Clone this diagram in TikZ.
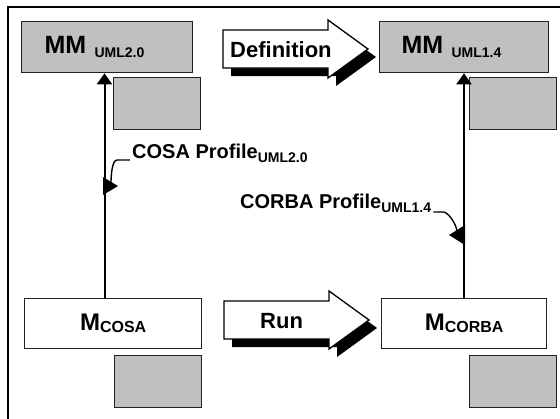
\documentclass[tikz,border=0pt]{standalone}
\usepackage{fontspec}
\setmainfont{Liberation Sans}
\usetikzlibrary{arrows.meta}
\definecolor{boxgray}{HTML}{C0C0C0}
\definecolor{edge}{HTML}{222222}
% lowered, smaller index text after a name
\newcommand{\idx}[3]{\raisebox{-#1}{\fontsize{#2}{#2}\selectfont #3}}
\tikzset{
  boxline/.style={draw=edge, line width=1.3pt},
  mmbox/.style={boxline, fill=boxgray, anchor=north west, minimum height=51pt,
    inner xsep=23pt, inner ysep=0pt, align=left, font=\bfseries\fontsize{25pt}{25pt}\selectfont},
  modelbox/.style={boxline, fill=white, anchor=north west, minimum height=50pt,
    inner sep=0pt, font=\bfseries\fontsize{24pt}{24pt}\selectfont},
  tag/.style={boxline, fill=boxgray, anchor=north west, minimum width=87pt,
    minimum height=52pt, inner sep=0pt},
  arrowtext/.style={anchor=base west, inner sep=0pt, font=\bfseries\fontsize{22pt}{22pt}\selectfont},
  proftext/.style={anchor=base west, inner sep=0pt, font=\bfseries\fontsize{20pt}{20pt}\selectfont},
  conn/.style={line width=2pt, -{Triangle[length=11pt,width=15pt]}},
  leader/.style={line width=1.4pt},
  pics/blockarrow/.style={code={
    \fill[black] (8,-11) -- (113,-11) -- (113,-21) -- (153,8) -- (113,37)
      -- (113,27) -- (8,27) -- cycle;
    \draw[fill=white, line width=1.3pt] (0,-19) -- (105,-19) -- (105,-29)
      -- (145,0) -- (105,29) -- (105,19) -- (0,19) -- cycle;
  }},
}
\begin{document}
\begin{tikzpicture}[x=1pt, y=-1pt]
  \useasboundingbox (0,0) rectangle (560,418);
  \clip (0,0) rectangle (560,418);

  % frame
  \draw[line width=2pt] (8,430) -- (8,7) -- (570,7);

  % metamodels
  \node[mmbox, text width=125pt] (mm20) at (21,21) {MM \idx{4pt}{14pt}{UML2.0}};
  \node[mmbox, text width=125pt, inner xsep=22pt] (mm14) at (379,21) {MM \idx{4pt}{14pt}{UML1.4}};
  \node[tag] (t1) at (113,77) {};
  \node[tag] (t2) at (469,77) {};

  % models
  \node[modelbox, minimum width=177pt] (mcosa) at (24,298) {M\idx{2pt}{16pt}{COSA}};
  \node[modelbox, minimum width=165pt] (mcorba) at (381,298) {M\idx{2pt}{16pt}{CORBA}};
  \node[tag] (t3) at (114,355) {};
  \node[tag] (t4) at (469,355) {};

  % block arrows between the columns
  \pic at (223,49) {blockarrow};
  \node[arrowtext] (defn) at (230,57) {Definition};
  \pic at (224,320) {blockarrow};
  \node[arrowtext] (run) at (260,328) {Run};

  % instance-of connectors
  \coordinate (cosax) at (104.5,0);
  \coordinate (corbax) at (464,0);
  \draw[conn] (mcosa.north -| cosax) -- (mm20.south -| cosax);
  \draw[conn] (mcorba.north -| corbax) -- (mm14.south -| corbax);

  % profile labels with leaders
  \node[proftext] (cosalbl) at (132,158) {COSA Profile\idx{4pt}{14pt}{UML2.0}};
  \node[proftext] (corbalbl) at (240,208) {CORBA Profile\idx{4pt}{14pt}{UML1.4}};

  \coordinate (cosatip) at (111,183);
  \draw[leader] ([shift={(-2,2)}]cosalbl.base west) -- ++(-13,0)
    .. controls +(-5,0) and +(0,-7) .. (cosatip);
  \fill (103,177) -- (118,186) -- (103,195) -- cycle;

  \coordinate (corbatip) at (457,232);
  \draw[leader] ([shift={(2,4)}]corbalbl.base east) -- ++(10,0)
    .. controls +(5,0) and +(0,-7) .. (corbatip);
  \fill (465,225) -- (449,235) -- (465,245) -- cycle;
\end{tikzpicture}
\end{document}
